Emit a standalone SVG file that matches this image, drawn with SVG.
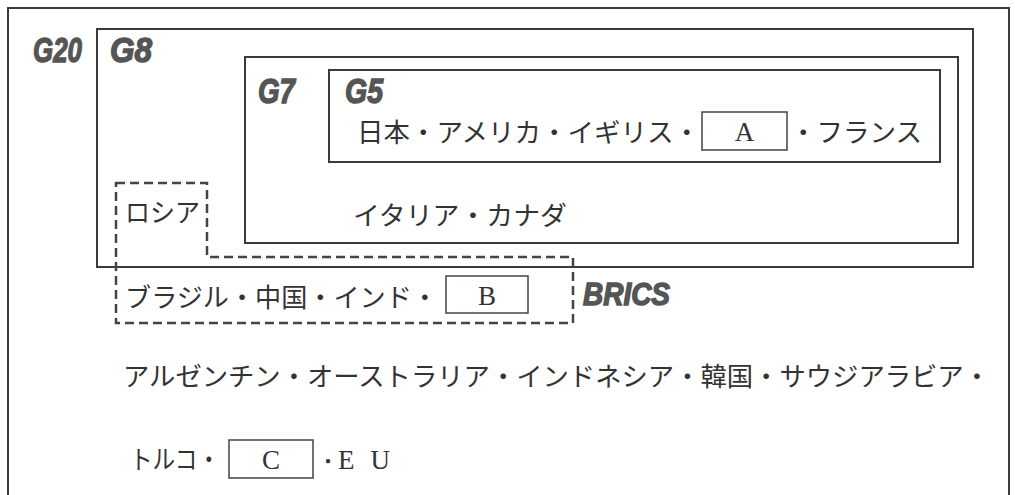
<svg xmlns="http://www.w3.org/2000/svg" width="1015" height="495" viewBox="0 0 1015 495">
<style>
.box{fill:none;stroke:#3a3a3a;stroke-width:2}
.sbox{fill:none;stroke:#444;stroke-width:1.5}
.dash{fill:none;stroke:#444;stroke-width:2.5;stroke-dasharray:9 5}
.lbl{font-family:"Liberation Sans",Arial,sans-serif;font-weight:bold;font-style:italic;fill:#555;stroke:#555;stroke-width:1.4}
.jp{font-family:"Noto Sans CJK JP","Noto Sans CJK SC",sans-serif;font-size:26px;fill:#333}
.lat{font-family:"Liberation Serif","Times New Roman",serif;font-size:27px;fill:#333}
</style>
<rect width="1015" height="495" fill="#fff"/>
<g id="g20">
<path class="box" d="M8,500 V8 H1009 V500"/>
<text class="lbl" x="33" y="62" font-size="35" textLength="49" lengthAdjust="spacingAndGlyphs">G20</text>
</g>
<g id="g8">
<rect class="box" x="97" y="29" width="876" height="238"/>
<text class="lbl" x="110" y="62" font-size="35" textLength="42" lengthAdjust="spacingAndGlyphs">G8</text>
</g>
<g id="g7">
<rect class="box" x="245" y="57" width="713" height="186"/>
<text class="lbl" x="258" y="103" font-size="35" textLength="37" lengthAdjust="spacingAndGlyphs">G7</text>
<text class="jp" x="353" y="225" textLength="214" lengthAdjust="spacingAndGlyphs">イタリア・カナダ</text>
</g>
<g id="g5">
<rect class="box" x="329" y="70" width="611" height="92"/>
<text class="lbl" x="345" y="103" font-size="35" textLength="38" lengthAdjust="spacingAndGlyphs">G5</text>
<text class="jp" x="357" y="142" textLength="343" lengthAdjust="spacingAndGlyphs">日本・アメリカ・イギリス・</text>
<rect class="sbox" x="702" y="112" width="85" height="38"/>
<text class="lat" x="744.5" y="141" text-anchor="middle">A</text>
<text class="jp" x="790" y="142" textLength="132" lengthAdjust="spacingAndGlyphs">・フランス</text>
</g>
<g id="brics">
<path class="dash" d="M116,183 H207 V257 H573 V323 H116 Z"/>
<text class="jp" x="125" y="222" textLength="75" lengthAdjust="spacingAndGlyphs">ロシア</text>
<text class="jp" x="125" y="307" textLength="313" lengthAdjust="spacingAndGlyphs">ブラジル・中国・インド・</text>
<rect class="sbox" x="446" y="276" width="82" height="37"/>
<text class="lat" x="487" y="305" text-anchor="middle">B</text>
<text class="lbl" x="583" y="305" font-size="31" textLength="87" lengthAdjust="spacingAndGlyphs">BRICS</text>
</g>
<g id="others">
<text class="jp" x="123" y="386" textLength="867" lengthAdjust="spacingAndGlyphs">アルゼンチン・オーストラリア・インドネシア・韓国・サウジアラビア・</text>
<text class="jp" x="130" y="469" textLength="90" lengthAdjust="spacingAndGlyphs">トルコ・</text>
<rect class="sbox" x="229" y="440" width="84" height="38"/>
<text class="lat" x="271" y="469" text-anchor="middle">C</text>
<text class="lat" x="318" y="469"><tspan font-family="Noto Sans CJK JP, sans-serif" font-size="20">・</tspan><tspan letter-spacing="16">EU</tspan></text>
</g>
<g id="connectors"></g>
</svg>
